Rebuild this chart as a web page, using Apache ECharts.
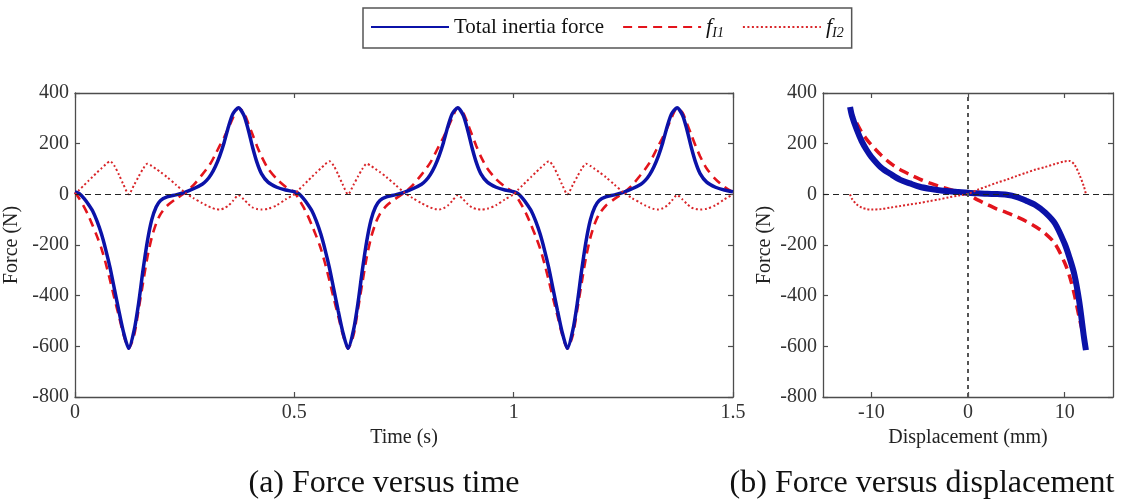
<!DOCTYPE html>
<html><head><meta charset="utf-8">
<script src="https://cdn.jsdelivr.net/npm/echarts@6/dist/echarts.min.js"></script>
<style>html,body{margin:0;padding:0;background:#fff}#c{width:1121px;height:503px}</style>
</head><body><div id="c"></div>
<script>
// ---- (a) Force versus time ----
const timeS = [
  0, 0.01, 0.02, 0.03, 0.04, 0.05, 0.06, 0.07, 0.08, 0.09, 0.1, 0.11, 0.1225, 0.135, 0.145, 0.155, 0.165, 0.175, 0.185, 0.195, 0.21, 0.23, 0.25, 0.27, 0.29, 0.3, 0.31, 0.32, 0.33, 0.34, 0.35, 0.36, 0.3725, 0.385, 0.395, 0.405, 0.415, 0.425, 0.44, 0.46, 0.48,
  0.5, 0.51, 0.52, 0.53, 0.54, 0.55, 0.56, 0.57, 0.58, 0.59, 0.6, 0.61, 0.6225, 0.635, 0.645, 0.655, 0.665, 0.675, 0.685, 0.695, 0.71, 0.73, 0.75, 0.77, 0.79, 0.8, 0.81, 0.82, 0.83, 0.84, 0.85, 0.86, 0.8725, 0.885, 0.895, 0.905, 0.915, 0.925, 0.94, 0.96, 0.98,
  1, 1.01, 1.02, 1.03, 1.04, 1.05, 1.06, 1.07, 1.08, 1.09, 1.1, 1.11, 1.1225, 1.135, 1.145, 1.155, 1.165, 1.175, 1.185, 1.195, 1.21, 1.23, 1.25, 1.27, 1.29, 1.3, 1.31, 1.32, 1.33, 1.34, 1.35, 1.36, 1.3725, 1.385, 1.395, 1.405, 1.415, 1.425, 1.44, 1.46, 1.48,
  1.5
];
const totalForceT = [
  10, 3, -15, -38, -65, -105, -155, -218, -290, -375, -460, -540, -608, -535, -430, -300, -185, -100, -50, -24, -10, -2, 8, 22, 40, 55, 78, 110, 152, 205, 268, 318, 342, 312, 255, 185, 125, 82, 48, 28, 17,
  10, 3, -15, -38, -65, -105, -155, -218, -290, -375, -460, -540, -608, -535, -430, -300, -185, -100, -50, -24, -10, -2, 8, 22, 40, 55, 78, 110, 152, 205, 268, 318, 342, 312, 255, 185, 125, 82, 48, 28, 17,
  10, 3, -15, -38, -65, -105, -155, -218, -290, -375, -460, -540, -608, -535, -430, -300, -185, -100, -50, -24, -10, -2, 8, 22, 40, 55, 78, 110, 152, 205, 268, 318, 342, 312, 255, 185, 125, 82, 48, 28, 17,
  10
];
const fI1T = [
  8, -18, -48, -82, -122, -165, -212, -272, -340, -412, -480, -550, -608, -555, -455, -350, -248, -170, -115, -78, -45, -18, 5, 36, 78, 100, 125, 158, 192, 225, 262, 302, 342, 322, 280, 235, 190, 150, 102, 60, 30,
  8, -18, -48, -82, -122, -165, -212, -272, -340, -412, -480, -550, -608, -555, -455, -350, -248, -170, -115, -78, -45, -18, 5, 36, 78, 100, 125, 158, 192, 225, 262, 302, 342, 322, 280, 235, 190, 150, 102, 60, 30,
  8, -18, -48, -82, -122, -165, -212, -272, -340, -412, -480, -550, -608, -555, -455, -350, -248, -170, -115, -78, -45, -18, 5, 36, 78, 100, 125, 158, 192, 225, 262, 302, 342, 322, 280, 235, 190, 150, 102, 60, 30,
  8
];
const fI2T = [
  0, 18, 35, 52, 69, 86, 102, 118, 131, 112, 78, 40, 0, 38, 70, 100, 121, 112, 100, 88, 68, 38, 8, -15, -35, -44, -52, -58, -60, -55, -44, -26, -3, -20, -38, -52, -58, -60, -57, -43, -20,
  0, 18, 35, 52, 69, 86, 102, 118, 131, 112, 78, 40, 0, 38, 70, 100, 121, 112, 100, 88, 68, 38, 8, -15, -35, -44, -52, -58, -60, -55, -44, -26, -3, -20, -38, -52, -58, -60, -57, -43, -20,
  0, 18, 35, 52, 69, 86, 102, 118, 131, 112, 78, 40, 0, 38, 70, 100, 121, 112, 100, 88, 68, 38, 8, -15, -35, -44, -52, -58, -60, -55, -44, -26, -3, -20, -38, -52, -58, -60, -57, -43, -20,
  0
];

// ---- (b) Force versus displacement ----
const dispMm = [-12.2, -12, -11.5, -11, -10.5, -10, -9, -8, -7, -6, -5, -4, -3, -2, -1, 0, 1, 2, 3, 4, 5, 6, 7, 8, 9, 10, 10.5, 11, 11.5, 12, 12.2];
const totalForceD = [345, 310, 255, 210, 176, 148, 106, 80, 57, 43, 30, 22, 16, 12, 9, 6, 4, 2, 1, -2, -10, -25, -43, -72, -115, -195, -250, -316, -421, -565, -615];
const fI1D = [340, 318, 280, 245, 218, 195, 155, 122, 97, 78, 60, 45, 32, 20, 10, 0, -22, -40, -58, -72, -88, -106, -128, -155, -195, -270, -322, -395, -485, -570, -608];
const fI2D = [0, -18, -40, -52, -58, -60, -58, -52, -46, -40, -34, -27, -20, -12, -5, 2, 18, 32, 46, 58, 72, 85, 98, 108, 120, 130, 132, 118, 80, 30, 0];

const timeTicks = [0, 0.5, 1, 1.5];
const dispTicks = [-10, 0, 10];
const forceTicks = [-800, -600, -400, -200, 0, 200, 400];

const legendNames = ['Total inertia force', 'f_I1', 'f_I2'];
const captions = ['(a) Force versus time', '(b) Force versus displacement'];

const FONT = 'Liberation Serif';
const AX = '#4d4d4d';
const BLUE = '#0b12a8';
const RED = '#e3141c';
const RED2 = '#d9262a';

const pairs = (xs, ys) => xs.map((x, i) => [x, ys[i]]);

function frameAxis(extra) {
  return Object.assign({
    type: 'value',
    axisLine: { show: true, onZero: false, lineStyle: { color: AX, width: 1.3 } },
    axisTick: { show: true, inside: true, length: 5, lineStyle: { color: AX, width: 1.2 } },
    axisLabel: { show: false },
    splitLine: { show: false }
  }, extra);
}
const labelStyle = { show: true, fontFamily: FONT, fontSize: 20, color: '#333', margin: 6 };
const nameStyle = { fontFamily: FONT, fontSize: 20, color: '#222' };

const chart = echarts.init(document.getElementById('c'), null, { renderer: 'canvas' });
chart.setOption({
  animation: false,
  backgroundColor: '#fff',
  grid: [
    { left: 75, right: 388, top: 93, bottom: 106, containLabel: false, outerBoundsMode: 'none' },
    { left: 823, right: 8, top: 93, bottom: 106, containLabel: false, outerBoundsMode: 'none' }
  ],
  legend: {
    data: legendNames,
    left: 363, top: 8,
    itemWidth: 78, itemHeight: 14, itemGap: 18,
    padding: [8, 8, 8, 7],
    borderColor: '#555', borderWidth: 1.5,
    selectedMode: false,
    itemStyle: { opacity: 0 },
    textStyle: {
      fontFamily: FONT, fontSize: 21, color: '#111',
      rich: {
        f: { fontFamily: FONT, fontStyle: 'italic', fontSize: 22, color: '#111', lineHeight: 26, verticalAlign: 'middle' },
        s: { fontFamily: FONT, fontStyle: 'italic', fontSize: 14, color: '#111', lineHeight: 26, verticalAlign: 'bottom' }
      }
    },
    formatter: function (n) {
      if (n === 'f_I1') return '{f|f}{s|I1}';
      if (n === 'f_I2') return '{f|f}{s|I2}';
      return n;
    }
  },
  xAxis: [
    frameAxis({ gridIndex: 0, position: 'bottom', min: timeTicks[0], max: timeTicks[timeTicks.length - 1], interval: 0.5,
      axisLabel: labelStyle, name: 'Time (s)', nameLocation: 'middle', nameGap: 28, nameTextStyle: nameStyle }),
    frameAxis({ gridIndex: 0, position: 'top', min: timeTicks[0], max: timeTicks[timeTicks.length - 1], interval: 0.5 }),
    frameAxis({ gridIndex: 1, position: 'bottom', min: -15, max: 15,
      axisTick: { show: true, inside: true, length: 5, lineStyle: { color: AX, width: 1.2 }, customValues: dispTicks },
      axisLabel: Object.assign({ customValues: dispTicks }, labelStyle),
      name: 'Displacement (mm)', nameLocation: 'middle', nameGap: 28, nameTextStyle: nameStyle }),
    frameAxis({ gridIndex: 1, position: 'top', min: -15, max: 15,
      axisTick: { show: true, inside: true, length: 5, lineStyle: { color: AX, width: 1.2 }, customValues: dispTicks } })
  ],
  yAxis: [
    frameAxis({ gridIndex: 0, position: 'left', min: forceTicks[0], max: forceTicks[forceTicks.length - 1], interval: 200,
      axisLabel: labelStyle, name: 'Force (N)', nameLocation: 'middle', nameGap: 48, nameTextStyle: nameStyle }),
    frameAxis({ gridIndex: 0, position: 'right', min: forceTicks[0], max: forceTicks[forceTicks.length - 1], interval: 200 }),
    frameAxis({ gridIndex: 1, position: 'left', min: forceTicks[0], max: forceTicks[forceTicks.length - 1], interval: 200,
      axisLabel: labelStyle, name: 'Force (N)', nameLocation: 'middle', nameGap: 48, nameTextStyle: nameStyle }),
    frameAxis({ gridIndex: 1, position: 'right', min: forceTicks[0], max: forceTicks[forceTicks.length - 1], interval: 200 })
  ],
  series: [
    { name: 'f_I1', type: 'line', xAxisIndex: 0, yAxisIndex: 0, z: 2, symbol: 'none', smooth: 0.25,
      lineStyle: { color: RED, width: 2.6, type: [9, 6] }, itemStyle: { color: RED },
      data: pairs(timeS, fI1T),
      markLine: { silent: true, symbol: 'none', label: { show: false }, animation: false,
        lineStyle: { color: '#222', width: 1.1, type: [6, 4] }, data: [{ yAxis: 0 }] } },
    { name: 'Total inertia force', type: 'line', xAxisIndex: 0, yAxisIndex: 0, z: 3, symbol: 'none', smooth: 0.25,
      lineStyle: { color: BLUE, width: 3.5 }, itemStyle: { color: BLUE },
      data: pairs(timeS, totalForceT) },
    { name: 'f_I2', type: 'line', xAxisIndex: 0, yAxisIndex: 0, z: 4, symbol: 'none', smooth: 0.25,
      lineStyle: { color: RED2, width: 2, type: [2, 2.5] }, itemStyle: { color: RED2 },
      data: pairs(timeS, fI2T) },

    { name: 'f_I1', type: 'line', xAxisIndex: 2, yAxisIndex: 2, z: 2, symbol: 'none', smooth: 0.3,
      lineStyle: { color: RED, width: 3.5, type: [10, 6] }, itemStyle: { color: RED },
      data: pairs(dispMm, fI1D),
      markLine: { silent: true, symbol: 'none', label: { show: false }, animation: false,
        data: [
          { yAxis: 0, lineStyle: { color: '#222', width: 1.1, type: [6, 4] } },
          { xAxis: 0, lineStyle: { color: '#555', width: 2, type: [4, 4] } }
        ] } },
    { name: 'Total inertia force', type: 'line', xAxisIndex: 2, yAxisIndex: 2, z: 3, symbol: 'none', smooth: 0.3,
      lineStyle: { color: BLUE, width: 6 }, itemStyle: { color: BLUE },
      data: pairs(dispMm, totalForceD) },
    { name: 'f_I2', type: 'line', xAxisIndex: 2, yAxisIndex: 2, z: 4, symbol: 'none', smooth: 0.3,
      lineStyle: { color: RED2, width: 2, type: [2, 2] }, itemStyle: { color: RED2 },
      data: pairs(dispMm, fI2D) }
  ],
  graphic: [
    { type: 'text', x: 384, y: 484, style: { text: captions[0], fontFamily: FONT, fontSize: 32, fill: '#111', align: 'center', verticalAlign: 'middle' } },
    { type: 'text', x: 922, y: 484, style: { text: captions[1], fontFamily: FONT, fontSize: 32, fill: '#111', align: 'center', verticalAlign: 'middle' } }
  ]
});
</script>
</body></html>
